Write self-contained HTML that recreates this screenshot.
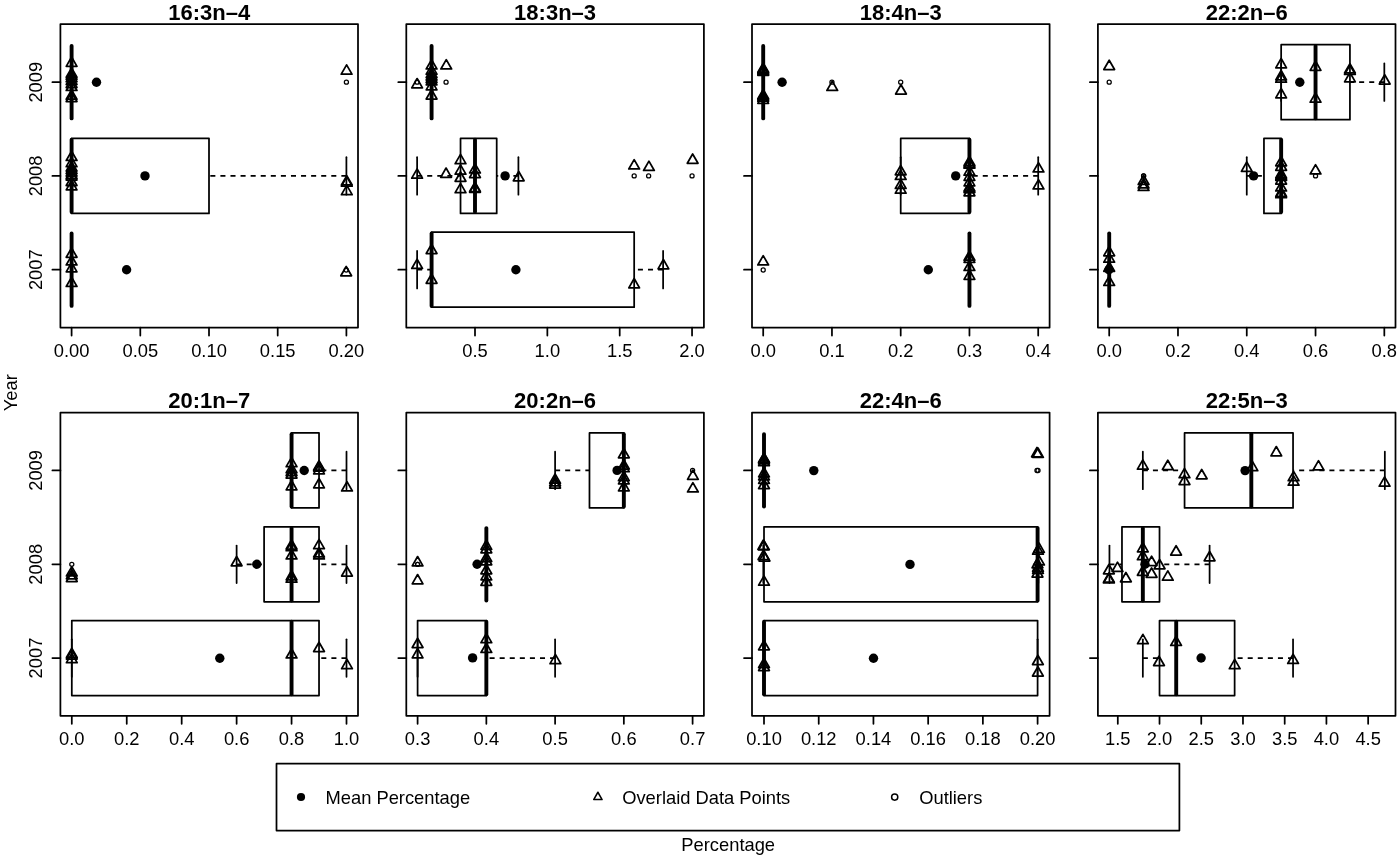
<!DOCTYPE html>
<html lang="en">
<head>
<meta charset="utf-8">
<title>Fatty acid percentage by year</title>
<style>
html,body{margin:0;padding:0;background:#fff;}
body{width:1400px;height:859px;overflow:hidden;}
svg{display:block;font-family:"Liberation Sans",Arial,Helvetica,sans-serif;}
svg line,svg rect,svg path,svg circle{stroke:#000;fill:none;stroke-linejoin:round;}
svg circle.m{fill:#000;stroke:none;}
svg text{fill:#000;stroke:none;}
</style>
</head>
<body>
<svg width="1400" height="859" viewBox="0 0 1400 859">
<rect x="0" y="0" width="1400" height="859" style="fill:#fff;stroke:none"/>
<g>
<line x1="71.6" y1="63.45" x2="71.6" y2="100.95" stroke-width="1.75" stroke-linecap="round"/>
<line x1="71.6" y1="63.45" x2="71.6" y2="100.95" stroke-width="1.75" stroke-linecap="round"/>
<line x1="71.6" y1="46" x2="71.6" y2="118.4" stroke-width="3.9" stroke-linecap="round"/>
<circle cx="346.4" cy="82.2" r="2.05" stroke-width="1.25"/>
<line x1="346.4" y1="175.9" x2="209" y2="175.9" stroke-width="1.75" stroke-linecap="butt" stroke-dasharray="5.04 5.04"/>
<line x1="71.6" y1="157.15" x2="71.6" y2="194.65" stroke-width="1.75" stroke-linecap="round"/>
<line x1="346.4" y1="157.15" x2="346.4" y2="194.65" stroke-width="1.75" stroke-linecap="round"/>
<rect x="71.6" y="138.4" width="137.4" height="75" stroke-width="1.75"/>
<line x1="71.6" y1="139.7" x2="71.6" y2="212.1" stroke-width="3.9" stroke-linecap="round"/>
<line x1="71.6" y1="250.95" x2="71.6" y2="288.45" stroke-width="1.75" stroke-linecap="round"/>
<line x1="71.6" y1="250.95" x2="71.6" y2="288.45" stroke-width="1.75" stroke-linecap="round"/>
<line x1="71.6" y1="233.5" x2="71.6" y2="305.9" stroke-width="3.9" stroke-linecap="round"/>
<circle cx="346.2" cy="270" r="2.05" stroke-width="1.25"/>
<path d="M71.6 57.05L76.97 66.35L66.23 66.35Z" stroke-width="1.75"/>
<path d="M71.6 67.85L76.97 77.15L66.23 77.15Z" stroke-width="1.75"/>
<path d="M71.6 69.95L76.97 79.25L66.23 79.25Z" stroke-width="1.75"/>
<path d="M71.6 72.35L76.97 81.65L66.23 81.65Z" stroke-width="1.75"/>
<path d="M71.6 75.15L76.97 84.45L66.23 84.45Z" stroke-width="1.75"/>
<path d="M71.6 78.25L76.97 87.55L66.23 87.55Z" stroke-width="1.75"/>
<path d="M71.6 81.15L76.97 90.45L66.23 90.45Z" stroke-width="1.75"/>
<path d="M71.6 89.85L76.97 99.15L66.23 99.15Z" stroke-width="1.75"/>
<path d="M71.6 92.25L76.97 101.55L66.23 101.55Z" stroke-width="1.75"/>
<path d="M346.6 64.85L351.97 74.15L341.23 74.15Z" stroke-width="1.75"/>
<path d="M71.6 151.15L76.97 160.45L66.23 160.45Z" stroke-width="1.75"/>
<path d="M71.6 157.35L76.97 166.65L66.23 166.65Z" stroke-width="1.75"/>
<path d="M71.6 161.75L76.97 171.05L66.23 171.05Z" stroke-width="1.75"/>
<path d="M71.6 164.25L76.97 173.55L66.23 173.55Z" stroke-width="1.75"/>
<path d="M71.6 166.75L76.97 176.05L66.23 176.05Z" stroke-width="1.75"/>
<path d="M71.6 169.25L76.97 178.55L66.23 178.55Z" stroke-width="1.75"/>
<path d="M71.6 170.75L76.97 180.05L66.23 180.05Z" stroke-width="1.75"/>
<path d="M71.6 176.25L76.97 185.55L66.23 185.55Z" stroke-width="1.75"/>
<path d="M71.6 180.55L76.97 189.85L66.23 189.85Z" stroke-width="1.75"/>
<path d="M346.8 175.65L352.17 184.95L341.43 184.95Z" stroke-width="1.75"/>
<path d="M346.8 176.85L352.17 186.15L341.43 186.15Z" stroke-width="1.75"/>
<path d="M346.8 185.35L352.17 194.65L341.43 194.65Z" stroke-width="1.75"/>
<path d="M71.6 247.95L76.97 257.25L66.23 257.25Z" stroke-width="1.75"/>
<path d="M71.6 255.65L76.97 264.95L66.23 264.95Z" stroke-width="1.75"/>
<path d="M71.6 262.55L76.97 271.85L66.23 271.85Z" stroke-width="1.75"/>
<path d="M71.6 277.15L76.97 286.45L66.23 286.45Z" stroke-width="1.75"/>
<path d="M346.2 266.45L351.57 275.75L340.83 275.75Z" stroke-width="1.75"/>
<circle class="m" cx="96.5" cy="82.2" r="4.7"/>
<circle class="m" cx="145" cy="175.9" r="4.7"/>
<circle class="m" cx="126.6" cy="269.7" r="4.7"/>
<rect x="60.4" y="24" width="297.6" height="303.6" stroke-width="1.75"/>
<line x1="71.6" y1="327.6" x2="71.6" y2="335.6" stroke-width="1.75" stroke-linecap="round"/>
<text x="71.6" y="356.7" text-anchor="middle" font-size="18.33">0.00</text>
<line x1="140.3" y1="327.6" x2="140.3" y2="335.6" stroke-width="1.75" stroke-linecap="round"/>
<text x="140.3" y="356.7" text-anchor="middle" font-size="18.33">0.05</text>
<line x1="209" y1="327.6" x2="209" y2="335.6" stroke-width="1.75" stroke-linecap="round"/>
<text x="209" y="356.7" text-anchor="middle" font-size="18.33">0.10</text>
<line x1="277.7" y1="327.6" x2="277.7" y2="335.6" stroke-width="1.75" stroke-linecap="round"/>
<text x="277.7" y="356.7" text-anchor="middle" font-size="18.33">0.15</text>
<line x1="346.4" y1="327.6" x2="346.4" y2="335.6" stroke-width="1.75" stroke-linecap="round"/>
<text x="346.4" y="356.7" text-anchor="middle" font-size="18.33">0.20</text>
<line x1="52.4" y1="82.2" x2="60.4" y2="82.2" stroke-width="1.75" stroke-linecap="round"/>
<text x="42.3" y="82.2" text-anchor="middle" font-size="18.33" transform="rotate(-90 42.3 82.2)">2009</text>
<line x1="52.4" y1="175.9" x2="60.4" y2="175.9" stroke-width="1.75" stroke-linecap="round"/>
<text x="42.3" y="175.9" text-anchor="middle" font-size="18.33" transform="rotate(-90 42.3 175.9)">2008</text>
<line x1="52.4" y1="269.7" x2="60.4" y2="269.7" stroke-width="1.75" stroke-linecap="round"/>
<text x="42.3" y="269.7" text-anchor="middle" font-size="18.33" transform="rotate(-90 42.3 269.7)">2007</text>
<text x="209.2" y="19.8" text-anchor="middle" font-size="22" font-weight="bold">16:3n–4</text>
</g>
<g>
<line x1="431.59" y1="63.45" x2="431.59" y2="100.95" stroke-width="1.75" stroke-linecap="round"/>
<line x1="431.59" y1="63.45" x2="431.59" y2="100.95" stroke-width="1.75" stroke-linecap="round"/>
<line x1="431.59" y1="46" x2="431.59" y2="118.4" stroke-width="3.9" stroke-linecap="round"/>
<circle cx="417.12" cy="82.2" r="2.05" stroke-width="1.25"/>
<circle cx="446.06" cy="82.2" r="2.05" stroke-width="1.25"/>
<line x1="417.12" y1="175.9" x2="460.53" y2="175.9" stroke-width="1.75" stroke-linecap="butt" stroke-dasharray="5.04 5.04"/>
<line x1="518.41" y1="175.9" x2="496.7" y2="175.9" stroke-width="1.75" stroke-linecap="butt" stroke-dasharray="5.04 5.04"/>
<line x1="417.12" y1="157.15" x2="417.12" y2="194.65" stroke-width="1.75" stroke-linecap="round"/>
<line x1="518.41" y1="157.15" x2="518.41" y2="194.65" stroke-width="1.75" stroke-linecap="round"/>
<rect x="460.53" y="138.4" width="36.17" height="75" stroke-width="1.75"/>
<line x1="475" y1="139.7" x2="475" y2="212.1" stroke-width="3.9" stroke-linecap="round"/>
<circle cx="634.17" cy="175.9" r="2.05" stroke-width="1.25"/>
<circle cx="648.64" cy="175.9" r="2.05" stroke-width="1.25"/>
<circle cx="692.05" cy="175.9" r="2.05" stroke-width="1.25"/>
<line x1="417.12" y1="269.7" x2="431.59" y2="269.7" stroke-width="1.75" stroke-linecap="butt" stroke-dasharray="5.04 5.04"/>
<line x1="663.11" y1="269.7" x2="634.17" y2="269.7" stroke-width="1.75" stroke-linecap="butt" stroke-dasharray="5.04 5.04"/>
<line x1="417.12" y1="250.95" x2="417.12" y2="288.45" stroke-width="1.75" stroke-linecap="round"/>
<line x1="663.11" y1="250.95" x2="663.11" y2="288.45" stroke-width="1.75" stroke-linecap="round"/>
<rect x="431.59" y="232.2" width="202.58" height="75" stroke-width="1.75"/>
<line x1="431.59" y1="233.5" x2="431.59" y2="305.9" stroke-width="3.9" stroke-linecap="round"/>
<path d="M417.12 78.55L422.49 87.85L411.75 87.85Z" stroke-width="1.75"/>
<path d="M446.26 59.65L451.63 68.95L440.89 68.95Z" stroke-width="1.75"/>
<path d="M431.59 59.65L436.96 68.95L426.22 68.95Z" stroke-width="1.75"/>
<path d="M431.59 64.85L436.96 74.15L426.22 74.15Z" stroke-width="1.75"/>
<path d="M431.59 68.25L436.96 77.55L426.22 77.55Z" stroke-width="1.75"/>
<path d="M431.59 70.75L436.96 80.05L426.22 80.05Z" stroke-width="1.75"/>
<path d="M431.59 73.25L436.96 82.55L426.22 82.55Z" stroke-width="1.75"/>
<path d="M431.59 75.55L436.96 84.85L426.22 84.85Z" stroke-width="1.75"/>
<path d="M431.59 80.55L436.96 89.85L426.22 89.85Z" stroke-width="1.75"/>
<path d="M431.59 89.75L436.96 99.05L426.22 99.05Z" stroke-width="1.75"/>
<path d="M417.12 168.85L422.49 178.15L411.75 178.15Z" stroke-width="1.75"/>
<path d="M446.06 168.05L451.43 177.35L440.69 177.35Z" stroke-width="1.75"/>
<path d="M460.53 154.35L465.9 163.65L455.16 163.65Z" stroke-width="1.75"/>
<path d="M460.53 164.85L465.9 174.15L455.16 174.15Z" stroke-width="1.75"/>
<path d="M460.53 171.95L465.9 181.25L455.16 181.25Z" stroke-width="1.75"/>
<path d="M460.53 183.35L465.9 192.65L455.16 192.65Z" stroke-width="1.75"/>
<path d="M475 163.65L480.37 172.95L469.63 172.95Z" stroke-width="1.75"/>
<path d="M475 168.25L480.37 177.55L469.63 177.55Z" stroke-width="1.75"/>
<path d="M475 182.25L480.37 191.55L469.63 191.55Z" stroke-width="1.75"/>
<path d="M475 183.05L480.37 192.35L469.63 192.35Z" stroke-width="1.75"/>
<path d="M518.71 171.45L524.08 180.75L513.34 180.75Z" stroke-width="1.75"/>
<path d="M634.17 159.65L639.54 168.95L628.8 168.95Z" stroke-width="1.75"/>
<path d="M648.94 161.15L654.31 170.45L643.57 170.45Z" stroke-width="1.75"/>
<path d="M692.65 153.95L698.02 163.25L687.28 163.25Z" stroke-width="1.75"/>
<path d="M417.12 259.15L422.49 268.45L411.75 268.45Z" stroke-width="1.75"/>
<path d="M431.59 244.25L436.96 253.55L426.22 253.55Z" stroke-width="1.75"/>
<path d="M431.59 273.95L436.96 283.25L426.22 283.25Z" stroke-width="1.75"/>
<path d="M634.17 278.55L639.54 287.85L628.8 287.85Z" stroke-width="1.75"/>
<path d="M663.41 259.55L668.78 268.85L658.04 268.85Z" stroke-width="1.75"/>
<circle class="m" cx="432.3" cy="81.5" r="4.7"/>
<circle class="m" cx="505.1" cy="175.9" r="4.7"/>
<circle class="m" cx="515.9" cy="269.8" r="4.7"/>
<rect x="406.3" y="24" width="297.6" height="303.6" stroke-width="1.75"/>
<line x1="475" y1="327.6" x2="475" y2="335.6" stroke-width="1.75" stroke-linecap="round"/>
<text x="475" y="356.7" text-anchor="middle" font-size="18.33">0.5</text>
<line x1="547.35" y1="327.6" x2="547.35" y2="335.6" stroke-width="1.75" stroke-linecap="round"/>
<text x="547.35" y="356.7" text-anchor="middle" font-size="18.33">1.0</text>
<line x1="619.7" y1="327.6" x2="619.7" y2="335.6" stroke-width="1.75" stroke-linecap="round"/>
<text x="619.7" y="356.7" text-anchor="middle" font-size="18.33">1.5</text>
<line x1="692.05" y1="327.6" x2="692.05" y2="335.6" stroke-width="1.75" stroke-linecap="round"/>
<text x="692.05" y="356.7" text-anchor="middle" font-size="18.33">2.0</text>
<line x1="398.3" y1="82.2" x2="406.3" y2="82.2" stroke-width="1.75" stroke-linecap="round"/>
<line x1="398.3" y1="175.9" x2="406.3" y2="175.9" stroke-width="1.75" stroke-linecap="round"/>
<line x1="398.3" y1="269.7" x2="406.3" y2="269.7" stroke-width="1.75" stroke-linecap="round"/>
<text x="555.1" y="19.8" text-anchor="middle" font-size="22" font-weight="bold">18:3n–3</text>
</g>
<g>
<line x1="763.2" y1="63.45" x2="763.2" y2="100.95" stroke-width="1.75" stroke-linecap="round"/>
<line x1="763.2" y1="63.45" x2="763.2" y2="100.95" stroke-width="1.75" stroke-linecap="round"/>
<line x1="763.2" y1="46" x2="763.2" y2="118.4" stroke-width="3.9" stroke-linecap="round"/>
<circle cx="831.95" cy="82.2" r="2.05" stroke-width="1.25"/>
<circle cx="900.7" cy="82.2" r="2.05" stroke-width="1.25"/>
<line x1="1038.2" y1="175.9" x2="969.45" y2="175.9" stroke-width="1.75" stroke-linecap="butt" stroke-dasharray="5.04 5.04"/>
<line x1="900.7" y1="157.15" x2="900.7" y2="194.65" stroke-width="1.75" stroke-linecap="round"/>
<line x1="1038.2" y1="157.15" x2="1038.2" y2="194.65" stroke-width="1.75" stroke-linecap="round"/>
<rect x="900.7" y="138.4" width="68.75" height="75" stroke-width="1.75"/>
<line x1="969.45" y1="139.7" x2="969.45" y2="212.1" stroke-width="3.9" stroke-linecap="round"/>
<line x1="969.45" y1="250.95" x2="969.45" y2="288.45" stroke-width="1.75" stroke-linecap="round"/>
<line x1="969.45" y1="250.95" x2="969.45" y2="288.45" stroke-width="1.75" stroke-linecap="round"/>
<line x1="969.45" y1="233.5" x2="969.45" y2="305.9" stroke-width="3.9" stroke-linecap="round"/>
<circle cx="763.2" cy="270" r="2.05" stroke-width="1.25"/>
<path d="M763.2 62.85L768.57 72.15L757.83 72.15Z" stroke-width="1.75"/>
<path d="M763.2 63.95L768.57 73.25L757.83 73.25Z" stroke-width="1.75"/>
<path d="M763.2 65.05L768.57 74.35L757.83 74.35Z" stroke-width="1.75"/>
<path d="M763.2 66.05L768.57 75.35L757.83 75.35Z" stroke-width="1.75"/>
<path d="M763.2 89.45L768.57 98.75L757.83 98.75Z" stroke-width="1.75"/>
<path d="M763.2 90.65L768.57 99.95L757.83 99.95Z" stroke-width="1.75"/>
<path d="M763.2 91.85L768.57 101.15L757.83 101.15Z" stroke-width="1.75"/>
<path d="M763.2 94.05L768.57 103.35L757.83 103.35Z" stroke-width="1.75"/>
<path d="M832.25 81.15L837.62 90.45L826.88 90.45Z" stroke-width="1.75"/>
<path d="M901 84.75L906.37 94.05L895.63 94.05Z" stroke-width="1.75"/>
<path d="M900.7 165.45L906.07 174.75L895.33 174.75Z" stroke-width="1.75"/>
<path d="M900.7 170.15L906.07 179.45L895.33 179.45Z" stroke-width="1.75"/>
<path d="M900.7 179.15L906.07 188.45L895.33 188.45Z" stroke-width="1.75"/>
<path d="M900.7 183.85L906.07 193.15L895.33 193.15Z" stroke-width="1.75"/>
<path d="M969.45 156.25L974.82 165.55L964.08 165.55Z" stroke-width="1.75"/>
<path d="M969.45 157.75L974.82 167.05L964.08 167.05Z" stroke-width="1.75"/>
<path d="M969.45 158.85L974.82 168.15L964.08 168.15Z" stroke-width="1.75"/>
<path d="M969.45 165.85L974.82 175.15L964.08 175.15Z" stroke-width="1.75"/>
<path d="M969.45 171.05L974.82 180.35L964.08 180.35Z" stroke-width="1.75"/>
<path d="M969.45 176.55L974.82 185.85L964.08 185.85Z" stroke-width="1.75"/>
<path d="M969.45 181.75L974.82 191.05L964.08 191.05Z" stroke-width="1.75"/>
<path d="M969.45 183.25L974.82 192.55L964.08 192.55Z" stroke-width="1.75"/>
<path d="M969.45 186.45L974.82 195.75L964.08 195.75Z" stroke-width="1.75"/>
<path d="M1038.5 162.65L1043.87 171.95L1033.13 171.95Z" stroke-width="1.75"/>
<path d="M1038.5 179.65L1043.87 188.95L1033.13 188.95Z" stroke-width="1.75"/>
<path d="M969.45 250.85L974.82 260.15L964.08 260.15Z" stroke-width="1.75"/>
<path d="M969.45 253.05L974.82 262.35L964.08 262.35Z" stroke-width="1.75"/>
<path d="M969.45 261.15L974.82 270.45L964.08 270.45Z" stroke-width="1.75"/>
<path d="M969.45 270.05L974.82 279.35L964.08 279.35Z" stroke-width="1.75"/>
<path d="M763.2 255.65L768.57 264.95L757.83 264.95Z" stroke-width="1.75"/>
<circle class="m" cx="782.1" cy="82.2" r="4.7"/>
<circle class="m" cx="955.7" cy="175.9" r="4.7"/>
<circle class="m" cx="928.3" cy="269.7" r="4.7"/>
<rect x="752" y="24" width="297.6" height="303.6" stroke-width="1.75"/>
<line x1="763.2" y1="327.6" x2="763.2" y2="335.6" stroke-width="1.75" stroke-linecap="round"/>
<text x="763.2" y="356.7" text-anchor="middle" font-size="18.33">0.0</text>
<line x1="831.95" y1="327.6" x2="831.95" y2="335.6" stroke-width="1.75" stroke-linecap="round"/>
<text x="831.95" y="356.7" text-anchor="middle" font-size="18.33">0.1</text>
<line x1="900.7" y1="327.6" x2="900.7" y2="335.6" stroke-width="1.75" stroke-linecap="round"/>
<text x="900.7" y="356.7" text-anchor="middle" font-size="18.33">0.2</text>
<line x1="969.45" y1="327.6" x2="969.45" y2="335.6" stroke-width="1.75" stroke-linecap="round"/>
<text x="969.45" y="356.7" text-anchor="middle" font-size="18.33">0.3</text>
<line x1="1038.2" y1="327.6" x2="1038.2" y2="335.6" stroke-width="1.75" stroke-linecap="round"/>
<text x="1038.2" y="356.7" text-anchor="middle" font-size="18.33">0.4</text>
<line x1="744" y1="82.2" x2="752" y2="82.2" stroke-width="1.75" stroke-linecap="round"/>
<line x1="744" y1="175.9" x2="752" y2="175.9" stroke-width="1.75" stroke-linecap="round"/>
<line x1="744" y1="269.7" x2="752" y2="269.7" stroke-width="1.75" stroke-linecap="round"/>
<text x="900.8" y="19.8" text-anchor="middle" font-size="22" font-weight="bold">18:4n–3</text>
</g>
<g>
<line x1="1384.32" y1="82.2" x2="1349.93" y2="82.2" stroke-width="1.75" stroke-linecap="butt" stroke-dasharray="5.04 5.04"/>
<line x1="1281.15" y1="63.45" x2="1281.15" y2="100.95" stroke-width="1.75" stroke-linecap="round"/>
<line x1="1384.32" y1="63.45" x2="1384.32" y2="100.95" stroke-width="1.75" stroke-linecap="round"/>
<rect x="1281.15" y="44.7" width="68.78" height="75" stroke-width="1.75"/>
<line x1="1315.54" y1="46" x2="1315.54" y2="118.4" stroke-width="3.9" stroke-linecap="round"/>
<circle cx="1109.2" cy="82.2" r="2.05" stroke-width="1.25"/>
<line x1="1246.76" y1="175.9" x2="1263.95" y2="175.9" stroke-width="1.75" stroke-linecap="butt" stroke-dasharray="5.04 5.04"/>
<line x1="1246.76" y1="157.15" x2="1246.76" y2="194.65" stroke-width="1.75" stroke-linecap="round"/>
<line x1="1281.15" y1="157.15" x2="1281.15" y2="194.65" stroke-width="1.75" stroke-linecap="round"/>
<rect x="1263.95" y="138.4" width="17.2" height="75" stroke-width="1.75"/>
<line x1="1281.15" y1="139.7" x2="1281.15" y2="212.1" stroke-width="3.9" stroke-linecap="round"/>
<circle cx="1143.59" cy="175.9" r="2.05" stroke-width="1.25"/>
<circle cx="1143.59" cy="175.9" r="2.05" stroke-width="1.25"/>
<circle cx="1315.54" cy="175.9" r="2.05" stroke-width="1.25"/>
<line x1="1109.2" y1="250.95" x2="1109.2" y2="288.45" stroke-width="1.75" stroke-linecap="round"/>
<line x1="1109.2" y1="250.95" x2="1109.2" y2="288.45" stroke-width="1.75" stroke-linecap="round"/>
<line x1="1109.2" y1="233.5" x2="1109.2" y2="305.9" stroke-width="3.9" stroke-linecap="round"/>
<path d="M1281.15 58.55L1286.52 67.85L1275.78 67.85Z" stroke-width="1.75"/>
<path d="M1281.15 70.55L1286.52 79.85L1275.78 79.85Z" stroke-width="1.75"/>
<path d="M1281.15 72.85L1286.52 82.15L1275.78 82.15Z" stroke-width="1.75"/>
<path d="M1281.15 88.55L1286.52 97.85L1275.78 97.85Z" stroke-width="1.75"/>
<path d="M1315.54 61.05L1320.91 70.35L1310.17 70.35Z" stroke-width="1.75"/>
<path d="M1315.54 92.85L1320.91 102.15L1310.17 102.15Z" stroke-width="1.75"/>
<path d="M1349.93 63.65L1355.3 72.95L1344.56 72.95Z" stroke-width="1.75"/>
<path d="M1349.93 65.15L1355.3 74.45L1344.56 74.45Z" stroke-width="1.75"/>
<path d="M1349.93 72.55L1355.3 81.85L1344.56 81.85Z" stroke-width="1.75"/>
<path d="M1384.72 74.75L1390.09 84.05L1379.35 84.05Z" stroke-width="1.75"/>
<path d="M1109.2 60.25L1114.57 69.55L1103.83 69.55Z" stroke-width="1.75"/>
<path d="M1246.76 162.05L1252.13 171.35L1241.39 171.35Z" stroke-width="1.75"/>
<path d="M1281.15 156.45L1286.52 165.75L1275.78 165.75Z" stroke-width="1.75"/>
<path d="M1281.15 160.95L1286.52 170.25L1275.78 170.25Z" stroke-width="1.75"/>
<path d="M1281.15 168.55L1286.52 177.85L1275.78 177.85Z" stroke-width="1.75"/>
<path d="M1281.15 169.85L1286.52 179.15L1275.78 179.15Z" stroke-width="1.75"/>
<path d="M1281.15 171.15L1286.52 180.45L1275.78 180.45Z" stroke-width="1.75"/>
<path d="M1281.15 174.75L1286.52 184.05L1275.78 184.05Z" stroke-width="1.75"/>
<path d="M1281.15 181.65L1286.52 190.95L1275.78 190.95Z" stroke-width="1.75"/>
<path d="M1281.15 187.05L1286.52 196.35L1275.78 196.35Z" stroke-width="1.75"/>
<path d="M1281.15 188.35L1286.52 197.65L1275.78 197.65Z" stroke-width="1.75"/>
<path d="M1315.54 164.65L1320.91 173.95L1310.17 173.95Z" stroke-width="1.75"/>
<path d="M1143.59 175.15L1148.96 184.45L1138.22 184.45Z" stroke-width="1.75"/>
<path d="M1143.59 178.65L1148.96 187.95L1138.22 187.95Z" stroke-width="1.75"/>
<path d="M1143.59 181.15L1148.96 190.45L1138.22 190.45Z" stroke-width="1.75"/>
<path d="M1109.2 246.45L1114.57 255.75L1103.83 255.75Z" stroke-width="1.75"/>
<path d="M1109.2 252.85L1114.57 262.15L1103.83 262.15Z" stroke-width="1.75"/>
<path d="M1109.2 261.95L1114.57 271.25L1103.83 271.25Z" stroke-width="1.75"/>
<path d="M1109.2 276.15L1114.57 285.45L1103.83 285.45Z" stroke-width="1.75"/>
<circle class="m" cx="1299.8" cy="82.3" r="4.7"/>
<circle class="m" cx="1253.6" cy="175.9" r="4.7"/>
<circle class="m" cx="1108.9" cy="269.7" r="4.7"/>
<rect x="1097.9" y="24" width="297.6" height="303.6" stroke-width="1.75"/>
<line x1="1109.2" y1="327.6" x2="1109.2" y2="335.6" stroke-width="1.75" stroke-linecap="round"/>
<text x="1109.2" y="356.7" text-anchor="middle" font-size="18.33">0.0</text>
<line x1="1177.98" y1="327.6" x2="1177.98" y2="335.6" stroke-width="1.75" stroke-linecap="round"/>
<text x="1177.98" y="356.7" text-anchor="middle" font-size="18.33">0.2</text>
<line x1="1246.76" y1="327.6" x2="1246.76" y2="335.6" stroke-width="1.75" stroke-linecap="round"/>
<text x="1246.76" y="356.7" text-anchor="middle" font-size="18.33">0.4</text>
<line x1="1315.54" y1="327.6" x2="1315.54" y2="335.6" stroke-width="1.75" stroke-linecap="round"/>
<text x="1315.54" y="356.7" text-anchor="middle" font-size="18.33">0.6</text>
<line x1="1384.32" y1="327.6" x2="1384.32" y2="335.6" stroke-width="1.75" stroke-linecap="round"/>
<text x="1384.32" y="356.7" text-anchor="middle" font-size="18.33">0.8</text>
<line x1="1089.9" y1="82.2" x2="1097.9" y2="82.2" stroke-width="1.75" stroke-linecap="round"/>
<line x1="1089.9" y1="175.9" x2="1097.9" y2="175.9" stroke-width="1.75" stroke-linecap="round"/>
<line x1="1089.9" y1="269.7" x2="1097.9" y2="269.7" stroke-width="1.75" stroke-linecap="round"/>
<text x="1246.7" y="19.8" text-anchor="middle" font-size="22" font-weight="bold">22:2n–6</text>
</g>
<g>
<line x1="346.5" y1="470.4" x2="319.03" y2="470.4" stroke-width="1.75" stroke-linecap="butt" stroke-dasharray="5.04 5.04"/>
<line x1="291.56" y1="451.65" x2="291.56" y2="489.15" stroke-width="1.75" stroke-linecap="round"/>
<line x1="346.5" y1="451.65" x2="346.5" y2="489.15" stroke-width="1.75" stroke-linecap="round"/>
<rect x="291.56" y="432.9" width="27.47" height="75" stroke-width="1.75"/>
<line x1="291.56" y1="434.2" x2="291.56" y2="506.6" stroke-width="3.9" stroke-linecap="round"/>
<line x1="236.62" y1="564.3" x2="264.09" y2="564.3" stroke-width="1.75" stroke-linecap="butt" stroke-dasharray="5.04 5.04"/>
<line x1="346.5" y1="564.3" x2="319.03" y2="564.3" stroke-width="1.75" stroke-linecap="butt" stroke-dasharray="5.04 5.04"/>
<line x1="236.62" y1="545.55" x2="236.62" y2="583.05" stroke-width="1.75" stroke-linecap="round"/>
<line x1="346.5" y1="545.55" x2="346.5" y2="583.05" stroke-width="1.75" stroke-linecap="round"/>
<rect x="264.09" y="526.8" width="54.94" height="75" stroke-width="1.75"/>
<line x1="291.56" y1="528.1" x2="291.56" y2="600.5" stroke-width="3.9" stroke-linecap="round"/>
<circle cx="71.8" cy="564.3" r="2.05" stroke-width="1.25"/>
<line x1="346.5" y1="658" x2="319.03" y2="658" stroke-width="1.75" stroke-linecap="butt" stroke-dasharray="5.04 5.04"/>
<line x1="71.8" y1="639.25" x2="71.8" y2="676.75" stroke-width="1.75" stroke-linecap="round"/>
<line x1="346.5" y1="639.25" x2="346.5" y2="676.75" stroke-width="1.75" stroke-linecap="round"/>
<rect x="71.8" y="620.5" width="247.23" height="75" stroke-width="1.75"/>
<line x1="291.56" y1="621.8" x2="291.56" y2="694.2" stroke-width="3.9" stroke-linecap="round"/>
<path d="M291.56 457.35L296.93 466.65L286.19 466.65Z" stroke-width="1.75"/>
<path d="M291.56 463.35L296.93 472.65L286.19 472.65Z" stroke-width="1.75"/>
<path d="M291.56 466.25L296.93 475.55L286.19 475.55Z" stroke-width="1.75"/>
<path d="M291.56 468.75L296.93 478.05L286.19 478.05Z" stroke-width="1.75"/>
<path d="M291.56 480.55L296.93 489.85L286.19 489.85Z" stroke-width="1.75"/>
<path d="M319.03 460.75L324.4 470.05L313.66 470.05Z" stroke-width="1.75"/>
<path d="M319.03 461.75L324.4 471.05L313.66 471.05Z" stroke-width="1.75"/>
<path d="M319.03 464.55L324.4 473.85L313.66 473.85Z" stroke-width="1.75"/>
<path d="M319.03 478.55L324.4 487.85L313.66 487.85Z" stroke-width="1.75"/>
<path d="M347 481.65L352.37 490.95L341.63 490.95Z" stroke-width="1.75"/>
<path d="M236.62 556.45L241.99 565.75L231.25 565.75Z" stroke-width="1.75"/>
<path d="M291.56 539.75L296.93 549.05L286.19 549.05Z" stroke-width="1.75"/>
<path d="M291.56 541.35L296.93 550.65L286.19 550.65Z" stroke-width="1.75"/>
<path d="M291.56 549.65L296.93 558.95L286.19 558.95Z" stroke-width="1.75"/>
<path d="M291.56 570.55L296.93 579.85L286.19 579.85Z" stroke-width="1.75"/>
<path d="M291.56 572.85L296.93 582.15L286.19 582.15Z" stroke-width="1.75"/>
<path d="M319.03 539.35L324.4 548.65L313.66 548.65Z" stroke-width="1.75"/>
<path d="M319.03 547.65L324.4 556.95L313.66 556.95Z" stroke-width="1.75"/>
<path d="M319.03 549.65L324.4 558.95L313.66 558.95Z" stroke-width="1.75"/>
<path d="M347 566.75L352.37 576.05L341.63 576.05Z" stroke-width="1.75"/>
<path d="M71.8 566.65L77.17 575.95L66.43 575.95Z" stroke-width="1.75"/>
<path d="M71.8 569.45L77.17 578.75L66.43 578.75Z" stroke-width="1.75"/>
<path d="M71.8 572.25L77.17 581.55L66.43 581.55Z" stroke-width="1.75"/>
<path d="M71.8 648.25L77.17 657.55L66.43 657.55Z" stroke-width="1.75"/>
<path d="M71.8 649.75L77.17 659.05L66.43 659.05Z" stroke-width="1.75"/>
<path d="M71.8 653.35L77.17 662.65L66.43 662.65Z" stroke-width="1.75"/>
<path d="M291.56 648.65L296.93 657.95L286.19 657.95Z" stroke-width="1.75"/>
<path d="M319.03 642.25L324.4 651.55L313.66 651.55Z" stroke-width="1.75"/>
<path d="M347 659.35L352.37 668.65L341.63 668.65Z" stroke-width="1.75"/>
<circle class="m" cx="304.2" cy="470.5" r="4.7"/>
<circle class="m" cx="256.8" cy="564.3" r="4.7"/>
<circle class="m" cx="219.8" cy="658.2" r="4.7"/>
<rect x="60.4" y="412.6" width="297.6" height="303.2" stroke-width="1.75"/>
<line x1="71.8" y1="715.8" x2="71.8" y2="723.8" stroke-width="1.75" stroke-linecap="round"/>
<text x="71.8" y="744.9" text-anchor="middle" font-size="18.33">0.0</text>
<line x1="126.74" y1="715.8" x2="126.74" y2="723.8" stroke-width="1.75" stroke-linecap="round"/>
<text x="126.74" y="744.9" text-anchor="middle" font-size="18.33">0.2</text>
<line x1="181.68" y1="715.8" x2="181.68" y2="723.8" stroke-width="1.75" stroke-linecap="round"/>
<text x="181.68" y="744.9" text-anchor="middle" font-size="18.33">0.4</text>
<line x1="236.62" y1="715.8" x2="236.62" y2="723.8" stroke-width="1.75" stroke-linecap="round"/>
<text x="236.62" y="744.9" text-anchor="middle" font-size="18.33">0.6</text>
<line x1="291.56" y1="715.8" x2="291.56" y2="723.8" stroke-width="1.75" stroke-linecap="round"/>
<text x="291.56" y="744.9" text-anchor="middle" font-size="18.33">0.8</text>
<line x1="346.5" y1="715.8" x2="346.5" y2="723.8" stroke-width="1.75" stroke-linecap="round"/>
<text x="346.5" y="744.9" text-anchor="middle" font-size="18.33">1.0</text>
<line x1="52.4" y1="470.4" x2="60.4" y2="470.4" stroke-width="1.75" stroke-linecap="round"/>
<text x="42.3" y="470.4" text-anchor="middle" font-size="18.33" transform="rotate(-90 42.3 470.4)">2009</text>
<line x1="52.4" y1="564.3" x2="60.4" y2="564.3" stroke-width="1.75" stroke-linecap="round"/>
<text x="42.3" y="564.3" text-anchor="middle" font-size="18.33" transform="rotate(-90 42.3 564.3)">2008</text>
<line x1="52.4" y1="658" x2="60.4" y2="658" stroke-width="1.75" stroke-linecap="round"/>
<text x="42.3" y="658" text-anchor="middle" font-size="18.33" transform="rotate(-90 42.3 658)">2007</text>
<text x="209.2" y="408.4" text-anchor="middle" font-size="22" font-weight="bold">20:1n–7</text>
</g>
<g>
<line x1="555.1" y1="470.4" x2="589.48" y2="470.4" stroke-width="1.75" stroke-linecap="butt" stroke-dasharray="5.04 5.04"/>
<line x1="555.1" y1="451.65" x2="555.1" y2="489.15" stroke-width="1.75" stroke-linecap="round"/>
<line x1="623.85" y1="451.65" x2="623.85" y2="489.15" stroke-width="1.75" stroke-linecap="round"/>
<rect x="589.48" y="432.9" width="34.38" height="75" stroke-width="1.75"/>
<line x1="623.85" y1="434.2" x2="623.85" y2="506.6" stroke-width="3.9" stroke-linecap="round"/>
<circle cx="692.6" cy="470.4" r="2.05" stroke-width="1.25"/>
<line x1="486.35" y1="545.55" x2="486.35" y2="583.05" stroke-width="1.75" stroke-linecap="round"/>
<line x1="486.35" y1="545.55" x2="486.35" y2="583.05" stroke-width="1.75" stroke-linecap="round"/>
<line x1="486.35" y1="528.1" x2="486.35" y2="600.5" stroke-width="3.9" stroke-linecap="round"/>
<circle cx="417.6" cy="564.3" r="2.05" stroke-width="1.25"/>
<circle cx="417.6" cy="564.3" r="2.05" stroke-width="1.25"/>
<line x1="555.1" y1="658" x2="486.35" y2="658" stroke-width="1.75" stroke-linecap="butt" stroke-dasharray="5.04 5.04"/>
<line x1="417.6" y1="639.25" x2="417.6" y2="676.75" stroke-width="1.75" stroke-linecap="round"/>
<line x1="555.1" y1="639.25" x2="555.1" y2="676.75" stroke-width="1.75" stroke-linecap="round"/>
<rect x="417.6" y="620.5" width="68.75" height="75" stroke-width="1.75"/>
<line x1="486.35" y1="621.8" x2="486.35" y2="694.2" stroke-width="3.9" stroke-linecap="round"/>
<path d="M555.1 473.85L560.47 483.15L549.73 483.15Z" stroke-width="1.75"/>
<path d="M555.1 476.45L560.47 485.75L549.73 485.75Z" stroke-width="1.75"/>
<path d="M555.1 478.75L560.47 488.05L549.73 488.05Z" stroke-width="1.75"/>
<path d="M623.85 448.45L629.22 457.75L618.48 457.75Z" stroke-width="1.75"/>
<path d="M623.85 459.75L629.22 469.05L618.48 469.05Z" stroke-width="1.75"/>
<path d="M623.85 462.35L629.22 471.65L618.48 471.65Z" stroke-width="1.75"/>
<path d="M623.85 471.35L629.22 480.65L618.48 480.65Z" stroke-width="1.75"/>
<path d="M623.85 474.55L629.22 483.85L618.48 483.85Z" stroke-width="1.75"/>
<path d="M623.85 481.55L629.22 490.85L618.48 490.85Z" stroke-width="1.75"/>
<path d="M692.9 470.05L698.27 479.35L687.53 479.35Z" stroke-width="1.75"/>
<path d="M692.9 482.65L698.27 491.95L687.53 491.95Z" stroke-width="1.75"/>
<path d="M486.35 540.05L491.72 549.35L480.98 549.35Z" stroke-width="1.75"/>
<path d="M486.35 543.45L491.72 552.75L480.98 552.75Z" stroke-width="1.75"/>
<path d="M486.35 552.25L491.72 561.55L480.98 561.55Z" stroke-width="1.75"/>
<path d="M486.35 555.45L491.72 564.75L480.98 564.75Z" stroke-width="1.75"/>
<path d="M486.35 564.45L491.72 573.75L480.98 573.75Z" stroke-width="1.75"/>
<path d="M486.35 570.55L491.72 579.85L480.98 579.85Z" stroke-width="1.75"/>
<path d="M486.35 575.95L491.72 585.25L480.98 585.25Z" stroke-width="1.75"/>
<path d="M417.6 556.55L422.97 565.85L412.23 565.85Z" stroke-width="1.75"/>
<path d="M417.6 574.55L422.97 583.85L412.23 583.85Z" stroke-width="1.75"/>
<path d="M417.6 638.25L422.97 647.55L412.23 647.55Z" stroke-width="1.75"/>
<path d="M417.6 648.55L422.97 657.85L412.23 657.85Z" stroke-width="1.75"/>
<path d="M486.35 633.35L491.72 642.65L480.98 642.65Z" stroke-width="1.75"/>
<path d="M486.35 643.15L491.72 652.45L480.98 652.45Z" stroke-width="1.75"/>
<path d="M555.4 654.35L560.77 663.65L550.03 663.65Z" stroke-width="1.75"/>
<circle class="m" cx="617.1" cy="470.4" r="4.7"/>
<circle class="m" cx="477.1" cy="564.3" r="4.7"/>
<circle class="m" cx="472.6" cy="657.9" r="4.7"/>
<rect x="406.3" y="412.6" width="297.6" height="303.2" stroke-width="1.75"/>
<line x1="417.6" y1="715.8" x2="417.6" y2="723.8" stroke-width="1.75" stroke-linecap="round"/>
<text x="417.6" y="744.9" text-anchor="middle" font-size="18.33">0.3</text>
<line x1="486.35" y1="715.8" x2="486.35" y2="723.8" stroke-width="1.75" stroke-linecap="round"/>
<text x="486.35" y="744.9" text-anchor="middle" font-size="18.33">0.4</text>
<line x1="555.1" y1="715.8" x2="555.1" y2="723.8" stroke-width="1.75" stroke-linecap="round"/>
<text x="555.1" y="744.9" text-anchor="middle" font-size="18.33">0.5</text>
<line x1="623.85" y1="715.8" x2="623.85" y2="723.8" stroke-width="1.75" stroke-linecap="round"/>
<text x="623.85" y="744.9" text-anchor="middle" font-size="18.33">0.6</text>
<line x1="692.6" y1="715.8" x2="692.6" y2="723.8" stroke-width="1.75" stroke-linecap="round"/>
<text x="692.6" y="744.9" text-anchor="middle" font-size="18.33">0.7</text>
<line x1="398.3" y1="470.4" x2="406.3" y2="470.4" stroke-width="1.75" stroke-linecap="round"/>
<line x1="398.3" y1="564.3" x2="406.3" y2="564.3" stroke-width="1.75" stroke-linecap="round"/>
<line x1="398.3" y1="658" x2="406.3" y2="658" stroke-width="1.75" stroke-linecap="round"/>
<text x="555.1" y="408.4" text-anchor="middle" font-size="22" font-weight="bold">20:2n–6</text>
</g>
<g>
<line x1="764" y1="451.65" x2="764" y2="489.15" stroke-width="1.75" stroke-linecap="round"/>
<line x1="764" y1="451.65" x2="764" y2="489.15" stroke-width="1.75" stroke-linecap="round"/>
<line x1="764" y1="434.2" x2="764" y2="506.6" stroke-width="3.9" stroke-linecap="round"/>
<circle cx="1037" cy="470.5" r="2.05" stroke-width="1.25"/>
<circle cx="1038" cy="470.5" r="2.05" stroke-width="1.25"/>
<line x1="763.3" y1="545.55" x2="763.3" y2="583.05" stroke-width="1.75" stroke-linecap="round"/>
<line x1="1038.3" y1="545.55" x2="1038.3" y2="583.05" stroke-width="1.75" stroke-linecap="round"/>
<rect x="764" y="526.8" width="273.6" height="75" stroke-width="1.75"/>
<line x1="1037.6" y1="528.1" x2="1037.6" y2="600.5" stroke-width="3.9" stroke-linecap="round"/>
<line x1="764" y1="639.25" x2="764" y2="676.75" stroke-width="1.75" stroke-linecap="round"/>
<line x1="1037.6" y1="639.25" x2="1037.6" y2="676.75" stroke-width="1.75" stroke-linecap="round"/>
<rect x="764" y="620.5" width="273.6" height="75" stroke-width="1.75"/>
<line x1="764" y1="621.8" x2="764" y2="694.2" stroke-width="3.9" stroke-linecap="round"/>
<path d="M764 453.45L769.37 462.75L758.63 462.75Z" stroke-width="1.75"/>
<path d="M764 452.95L769.37 462.25L758.63 462.25Z" stroke-width="1.75"/>
<path d="M764 454.65L769.37 463.95L758.63 463.95Z" stroke-width="1.75"/>
<path d="M764 456.35L769.37 465.65L758.63 465.65Z" stroke-width="1.75"/>
<path d="M764 467.55L769.37 476.85L758.63 476.85Z" stroke-width="1.75"/>
<path d="M764 470.55L769.37 479.85L758.63 479.85Z" stroke-width="1.75"/>
<path d="M764 474.05L769.37 483.35L758.63 483.35Z" stroke-width="1.75"/>
<path d="M764 479.25L769.37 488.55L758.63 488.55Z" stroke-width="1.75"/>
<path d="M1037 447.45L1042.37 456.75L1031.63 456.75Z" stroke-width="1.75"/>
<path d="M1038 448.05L1043.37 457.35L1032.63 457.35Z" stroke-width="1.75"/>
<path d="M763.3 540.05L768.67 549.35L757.93 549.35Z" stroke-width="1.75"/>
<path d="M763.9 540.45L769.27 549.75L758.53 549.75Z" stroke-width="1.75"/>
<path d="M763.5 550.25L768.87 559.55L758.13 559.55Z" stroke-width="1.75"/>
<path d="M764.5 551.75L769.87 561.05L759.13 561.05Z" stroke-width="1.75"/>
<path d="M764 575.85L769.37 585.15L758.63 585.15Z" stroke-width="1.75"/>
<path d="M1039 543.05L1044.37 552.35L1033.63 552.35Z" stroke-width="1.75"/>
<path d="M1038 544.85L1043.37 554.15L1032.63 554.15Z" stroke-width="1.75"/>
<path d="M1039 555.65L1044.37 564.95L1033.63 564.95Z" stroke-width="1.75"/>
<path d="M1037.5 558.45L1042.87 567.75L1032.13 567.75Z" stroke-width="1.75"/>
<path d="M1038 561.95L1043.37 571.25L1032.63 571.25Z" stroke-width="1.75"/>
<path d="M1038 564.05L1043.37 573.35L1032.63 573.35Z" stroke-width="1.75"/>
<path d="M1037.5 567.75L1042.87 577.05L1032.13 577.05Z" stroke-width="1.75"/>
<path d="M764 640.45L769.37 649.75L758.63 649.75Z" stroke-width="1.75"/>
<path d="M764 658.25L769.37 667.55L758.63 667.55Z" stroke-width="1.75"/>
<path d="M764 661.25L769.37 670.55L758.63 670.55Z" stroke-width="1.75"/>
<path d="M1037.9 655.25L1043.27 664.55L1032.53 664.55Z" stroke-width="1.75"/>
<path d="M1037.9 666.75L1043.27 676.05L1032.53 676.05Z" stroke-width="1.75"/>
<circle class="m" cx="813.8" cy="470.6" r="4.7"/>
<circle class="m" cx="910" cy="564.4" r="4.7"/>
<circle class="m" cx="873.5" cy="658.2" r="4.7"/>
<rect x="752" y="412.6" width="297.6" height="303.2" stroke-width="1.75"/>
<line x1="764" y1="715.8" x2="764" y2="723.8" stroke-width="1.75" stroke-linecap="round"/>
<text x="764" y="744.9" text-anchor="middle" font-size="18.33">0.10</text>
<line x1="818.72" y1="715.8" x2="818.72" y2="723.8" stroke-width="1.75" stroke-linecap="round"/>
<text x="818.72" y="744.9" text-anchor="middle" font-size="18.33">0.12</text>
<line x1="873.44" y1="715.8" x2="873.44" y2="723.8" stroke-width="1.75" stroke-linecap="round"/>
<text x="873.44" y="744.9" text-anchor="middle" font-size="18.33">0.14</text>
<line x1="928.16" y1="715.8" x2="928.16" y2="723.8" stroke-width="1.75" stroke-linecap="round"/>
<text x="928.16" y="744.9" text-anchor="middle" font-size="18.33">0.16</text>
<line x1="982.88" y1="715.8" x2="982.88" y2="723.8" stroke-width="1.75" stroke-linecap="round"/>
<text x="982.88" y="744.9" text-anchor="middle" font-size="18.33">0.18</text>
<line x1="1037.6" y1="715.8" x2="1037.6" y2="723.8" stroke-width="1.75" stroke-linecap="round"/>
<text x="1037.6" y="744.9" text-anchor="middle" font-size="18.33">0.20</text>
<line x1="744" y1="470.4" x2="752" y2="470.4" stroke-width="1.75" stroke-linecap="round"/>
<line x1="744" y1="564.3" x2="752" y2="564.3" stroke-width="1.75" stroke-linecap="round"/>
<line x1="744" y1="658" x2="752" y2="658" stroke-width="1.75" stroke-linecap="round"/>
<text x="900.8" y="408.4" text-anchor="middle" font-size="22" font-weight="bold">22:4n–6</text>
</g>
<g>
<line x1="1142.84" y1="470.4" x2="1184.56" y2="470.4" stroke-width="1.75" stroke-linecap="butt" stroke-dasharray="5.04 5.04"/>
<line x1="1384.84" y1="470.4" x2="1293.05" y2="470.4" stroke-width="1.75" stroke-linecap="butt" stroke-dasharray="5.04 5.04"/>
<line x1="1142.84" y1="451.65" x2="1142.84" y2="489.15" stroke-width="1.75" stroke-linecap="round"/>
<line x1="1384.84" y1="451.65" x2="1384.84" y2="489.15" stroke-width="1.75" stroke-linecap="round"/>
<rect x="1184.56" y="432.9" width="108.49" height="75" stroke-width="1.75"/>
<line x1="1251.32" y1="434.2" x2="1251.32" y2="506.6" stroke-width="3.9" stroke-linecap="round"/>
<line x1="1109.45" y1="564.3" x2="1121.97" y2="564.3" stroke-width="1.75" stroke-linecap="butt" stroke-dasharray="5.04 5.04"/>
<line x1="1209.6" y1="564.3" x2="1159.52" y2="564.3" stroke-width="1.75" stroke-linecap="butt" stroke-dasharray="5.04 5.04"/>
<line x1="1109.45" y1="545.55" x2="1109.45" y2="583.05" stroke-width="1.75" stroke-linecap="round"/>
<line x1="1209.6" y1="545.55" x2="1209.6" y2="583.05" stroke-width="1.75" stroke-linecap="round"/>
<rect x="1121.97" y="526.8" width="37.55" height="75" stroke-width="1.75"/>
<line x1="1142.84" y1="528.1" x2="1142.84" y2="600.5" stroke-width="3.9" stroke-linecap="round"/>
<line x1="1142.84" y1="658" x2="1159.52" y2="658" stroke-width="1.75" stroke-linecap="butt" stroke-dasharray="5.04 5.04"/>
<line x1="1293.05" y1="658" x2="1234.63" y2="658" stroke-width="1.75" stroke-linecap="butt" stroke-dasharray="5.04 5.04"/>
<line x1="1142.84" y1="639.25" x2="1142.84" y2="676.75" stroke-width="1.75" stroke-linecap="round"/>
<line x1="1293.05" y1="639.25" x2="1293.05" y2="676.75" stroke-width="1.75" stroke-linecap="round"/>
<rect x="1159.52" y="620.5" width="75.11" height="75" stroke-width="1.75"/>
<line x1="1176.21" y1="621.8" x2="1176.21" y2="694.2" stroke-width="3.9" stroke-linecap="round"/>
<path d="M1142.8 459.85L1148.17 469.15L1137.43 469.15Z" stroke-width="1.75"/>
<path d="M1167.8 460.25L1173.17 469.55L1162.43 469.55Z" stroke-width="1.75"/>
<path d="M1184.5 468.35L1189.87 477.65L1179.13 477.65Z" stroke-width="1.75"/>
<path d="M1184.5 475.25L1189.87 484.55L1179.13 484.55Z" stroke-width="1.75"/>
<path d="M1201.7 469.45L1207.07 478.75L1196.33 478.75Z" stroke-width="1.75"/>
<path d="M1252.4 461.35L1257.77 470.65L1247.03 470.65Z" stroke-width="1.75"/>
<path d="M1276.3 446.55L1281.67 455.85L1270.93 455.85Z" stroke-width="1.75"/>
<path d="M1293.6 471.35L1298.97 480.65L1288.23 480.65Z" stroke-width="1.75"/>
<path d="M1293.6 475.85L1298.97 485.15L1288.23 485.15Z" stroke-width="1.75"/>
<path d="M1318.5 460.65L1323.87 469.95L1313.13 469.95Z" stroke-width="1.75"/>
<path d="M1384.6 476.85L1389.97 486.15L1379.23 486.15Z" stroke-width="1.75"/>
<path d="M1108.9 564.45L1114.27 573.75L1103.53 573.75Z" stroke-width="1.75"/>
<path d="M1108.9 572.85L1114.27 582.15L1103.53 582.15Z" stroke-width="1.75"/>
<path d="M1108.9 573.65L1114.27 582.95L1103.53 582.95Z" stroke-width="1.75"/>
<path d="M1117.5 562.15L1122.87 571.45L1112.13 571.45Z" stroke-width="1.75"/>
<path d="M1125.9 572.45L1131.27 581.75L1120.53 581.75Z" stroke-width="1.75"/>
<path d="M1142.8 542.55L1148.17 551.85L1137.43 551.85Z" stroke-width="1.75"/>
<path d="M1142.8 550.35L1148.17 559.65L1137.43 559.65Z" stroke-width="1.75"/>
<path d="M1142.8 565.95L1148.17 575.25L1137.43 575.25Z" stroke-width="1.75"/>
<path d="M1151.6 556.25L1156.97 565.55L1146.23 565.55Z" stroke-width="1.75"/>
<path d="M1151.6 567.95L1156.97 577.25L1146.23 577.25Z" stroke-width="1.75"/>
<path d="M1159.6 559.45L1164.97 568.75L1154.23 568.75Z" stroke-width="1.75"/>
<path d="M1167.8 570.85L1173.17 580.15L1162.43 580.15Z" stroke-width="1.75"/>
<path d="M1176.1 545.75L1181.47 555.05L1170.73 555.05Z" stroke-width="1.75"/>
<path d="M1209.6 551.45L1214.97 560.75L1204.23 560.75Z" stroke-width="1.75"/>
<path d="M1142.9 634.35L1148.27 643.65L1137.53 643.65Z" stroke-width="1.75"/>
<path d="M1159 656.25L1164.37 665.55L1153.63 665.55Z" stroke-width="1.75"/>
<path d="M1176.1 636.15L1181.47 645.45L1170.73 645.45Z" stroke-width="1.75"/>
<path d="M1234.7 659.35L1240.07 668.65L1229.33 668.65Z" stroke-width="1.75"/>
<path d="M1293.1 654.15L1298.47 663.45L1287.73 663.45Z" stroke-width="1.75"/>
<circle class="m" cx="1245.1" cy="470.6" r="4.7"/>
<circle class="m" cx="1145" cy="564.3" r="4.7"/>
<circle class="m" cx="1201.1" cy="658" r="4.7"/>
<rect x="1097.9" y="412.6" width="297.6" height="303.2" stroke-width="1.75"/>
<line x1="1117.8" y1="715.8" x2="1117.8" y2="723.8" stroke-width="1.75" stroke-linecap="round"/>
<text x="1117.8" y="744.9" text-anchor="middle" font-size="18.33">1.5</text>
<line x1="1159.52" y1="715.8" x2="1159.52" y2="723.8" stroke-width="1.75" stroke-linecap="round"/>
<text x="1159.52" y="744.9" text-anchor="middle" font-size="18.33">2.0</text>
<line x1="1201.25" y1="715.8" x2="1201.25" y2="723.8" stroke-width="1.75" stroke-linecap="round"/>
<text x="1201.25" y="744.9" text-anchor="middle" font-size="18.33">2.5</text>
<line x1="1242.97" y1="715.8" x2="1242.97" y2="723.8" stroke-width="1.75" stroke-linecap="round"/>
<text x="1242.97" y="744.9" text-anchor="middle" font-size="18.33">3.0</text>
<line x1="1284.7" y1="715.8" x2="1284.7" y2="723.8" stroke-width="1.75" stroke-linecap="round"/>
<text x="1284.7" y="744.9" text-anchor="middle" font-size="18.33">3.5</text>
<line x1="1326.42" y1="715.8" x2="1326.42" y2="723.8" stroke-width="1.75" stroke-linecap="round"/>
<text x="1326.42" y="744.9" text-anchor="middle" font-size="18.33">4.0</text>
<line x1="1368.15" y1="715.8" x2="1368.15" y2="723.8" stroke-width="1.75" stroke-linecap="round"/>
<text x="1368.15" y="744.9" text-anchor="middle" font-size="18.33">4.5</text>
<line x1="1089.9" y1="470.4" x2="1097.9" y2="470.4" stroke-width="1.75" stroke-linecap="round"/>
<line x1="1089.9" y1="564.3" x2="1097.9" y2="564.3" stroke-width="1.75" stroke-linecap="round"/>
<line x1="1089.9" y1="658" x2="1097.9" y2="658" stroke-width="1.75" stroke-linecap="round"/>
<text x="1246.7" y="408.4" text-anchor="middle" font-size="22" font-weight="bold">22:5n–3</text>
</g>
<g>
<rect x="276.5" y="763.7" width="902.9" height="66.8" stroke-width="1.75"/>
<circle class="m" cx="301" cy="797" r="4.1"/>
<text x="325.5" y="803.8" text-anchor="start" font-size="18.33">Mean Percentage</text>
<path d="M597.9 792.25L602.1 799.52L593.7 799.52Z" stroke-width="1.5"/>
<text x="622.2" y="803.8" text-anchor="start" font-size="18.33">Overlaid Data Points</text>
<circle cx="894.7" cy="797.1" r="3.1" stroke-width="1.5"/>
<text x="919.2" y="803.8" text-anchor="start" font-size="18.33">Outliers</text>
<text x="728.2" y="851" text-anchor="middle" font-size="18.33">Percentage</text>
<text x="17.3" y="392.7" text-anchor="middle" font-size="18.33" transform="rotate(-90 17.3 392.7)">Year</text>
</g>
</svg>
</body>
</html>
